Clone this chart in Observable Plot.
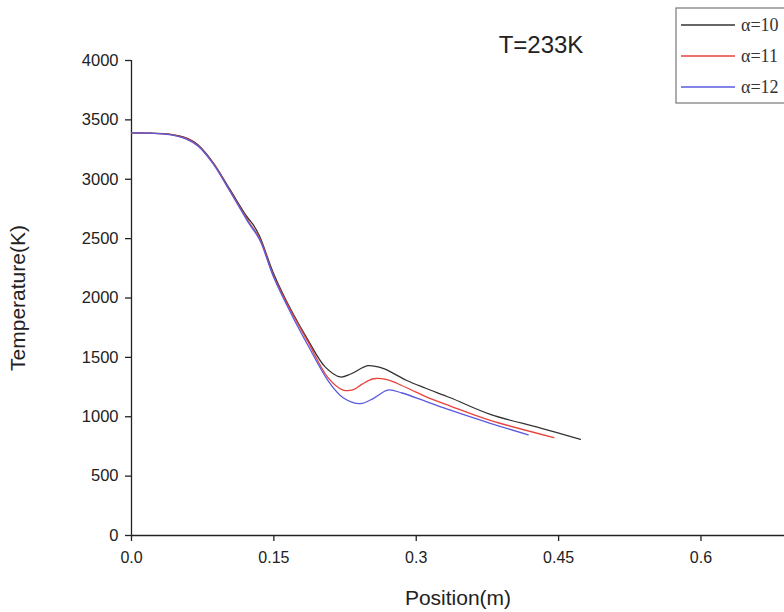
<!DOCTYPE html>
<html>
<head>
<meta charset="utf-8">
<script src="https://cdn.jsdelivr.net/npm/d3@7"></script>
<script src="https://cdn.jsdelivr.net/npm/@observablehq/plot@0.6"></script>
<style>
  html, body { margin: 0; padding: 0; background: white; }
  #chart svg { overflow: hidden; }
</style>
</head>
<body>
<div id="chart"></div>
<script>
// ---- data ----
const seriesNames = ["α=10", "α=11", "α=12"];
const seriesColors = ["#333333", "#e8413a", "#5a5ae0"];

const xBlack = [0, 0.02, 0.04, 0.06, 0.07, 0.086, 0.104, 0.122, 0.128, 0.135, 0.15, 0.168, 0.186, 0.204, 0.220, 0.231, 0.249, 0.262, 0.275, 0.29, 0.31, 0.336, 0.378, 0.431, 0.473];
const yBlack = [3390, 3388, 3380, 3340, 3290, 3140, 2910, 2680, 2620, 2520, 2200, 1900, 1645, 1420, 1335, 1360, 1430, 1415, 1370, 1305, 1240, 1160, 1020, 905, 810];

const xRed = [0, 0.02, 0.04, 0.06, 0.07, 0.086, 0.104, 0.122, 0.135, 0.15, 0.168, 0.186, 0.207, 0.223, 0.234, 0.243, 0.255, 0.268, 0.28, 0.295, 0.31, 0.336, 0.378, 0.445];
const yRed = [3390, 3388, 3378, 3335, 3285, 3135, 2900, 2660, 2500, 2180, 1890, 1630, 1330, 1225, 1228, 1275, 1320, 1315, 1280, 1225, 1170, 1090, 970, 825];

const xBlue = [0, 0.02, 0.04, 0.06, 0.07, 0.086, 0.104, 0.122, 0.135, 0.15, 0.168, 0.186, 0.207, 0.223, 0.241, 0.255, 0.270, 0.285, 0.31, 0.336, 0.378, 0.418];
const yBlue = [3390, 3388, 3375, 3330, 3280, 3130, 2895, 2650, 2490, 2170, 1870, 1600, 1305, 1160, 1110, 1155, 1225, 1200, 1130, 1055, 945, 848];

const xTicks = [0, 0.15, 0.3, 0.45, 0.6];
const yTicks = [0, 500, 1000, 1500, 2000, 2500, 3000, 3500, 4000];
const title = "T=233K";
const xLabel = "Position(m)";
const yLabel = "Temperature(K)";

// ---- build table ----
const rows = [];
[[xBlack, yBlack], [xRed, yRed], [xBlue, yBlue]].forEach(([xs, ys], i) => {
  xs.forEach((x, j) => rows.push({series: seriesNames[i], x, y: ys[j]}));
});

const font = "'Liberation Sans', Arial, sans-serif";

const chart = Plot.plot({
  width: 784,
  height: 612,
  marginLeft: 131,
  marginRight: 0,
  marginTop: 60,
  marginBottom: 77,
  style: {fontFamily: font, background: "white", overflow: "hidden"},
  x: {domain: [0, 0.688]},
  y: {domain: [0, 4000]},
  color: {domain: seriesNames, range: seriesColors},
  marks: [
    Plot.ruleY([0], {stroke: "#222", strokeWidth: 1.3}),
    Plot.ruleX([0], {y1: 0, y2: 4000, stroke: "#222", strokeWidth: 1.3}),
    Plot.axisX({ticks: xTicks, tickFormat: d => d === 0 ? "0.0" : String(d), tickSize: 6, tickPadding: 10, fontSize: 16, label: null, stroke: "#222", color: "#222", strokeWidth: 1.3}),
    Plot.axisY({ticks: yTicks, tickFormat: d => String(d), tickSize: 6, tickPadding: 7, fontSize: 16.5, label: null, stroke: "#222", color: "#222", strokeWidth: 1.3}),
    Plot.line(rows, {x: "x", y: "y", z: "series", stroke: "series", strokeWidth: 1.3, curve: "catmull-rom"}),
    Plot.text([xLabel], {frameAnchor: "bottom", lineAnchor: "middle", dy: 63, fontSize: 21, fill: "#222"}),
    Plot.text([yLabel], {frameAnchor: "left", textAnchor: "middle", dx: -113, rotate: -90, fontSize: 21, fill: "#222"}),
    Plot.text([title], {frameAnchor: "top", lineAnchor: "middle", dx: 83, dy: -15, fontSize: 24, fill: "#222"})
  ]
});

// ---- legend (box runs off the right edge, as in the reference) ----
const svg = d3.select(chart);
const lg = svg.append("g").attr("transform", "translate(676,8)");
lg.append("rect").attr("x", 0).attr("y", 0).attr("width", 140).attr("height", 95)
  .attr("fill", "white").attr("stroke", "#777").attr("stroke-width", 1.2);
seriesNames.forEach((name, i) => {
  const yy = 17 + i * 31;
  lg.append("line").attr("x1", 5).attr("x2", 59).attr("y1", yy).attr("y2", yy)
    .attr("stroke", seriesColors[i]).attr("stroke-width", 1.3);
  lg.append("text").attr("x", 65).attr("y", yy).attr("dy", "0.35em")
    .attr("text-anchor", "start")
    .attr("font-family", "'Liberation Serif', 'Times New Roman', serif")
    .attr("font-size", 18).attr("fill", "#333").text(name);
});

document.getElementById("chart").appendChild(chart);
</script>
</body>
</html>
